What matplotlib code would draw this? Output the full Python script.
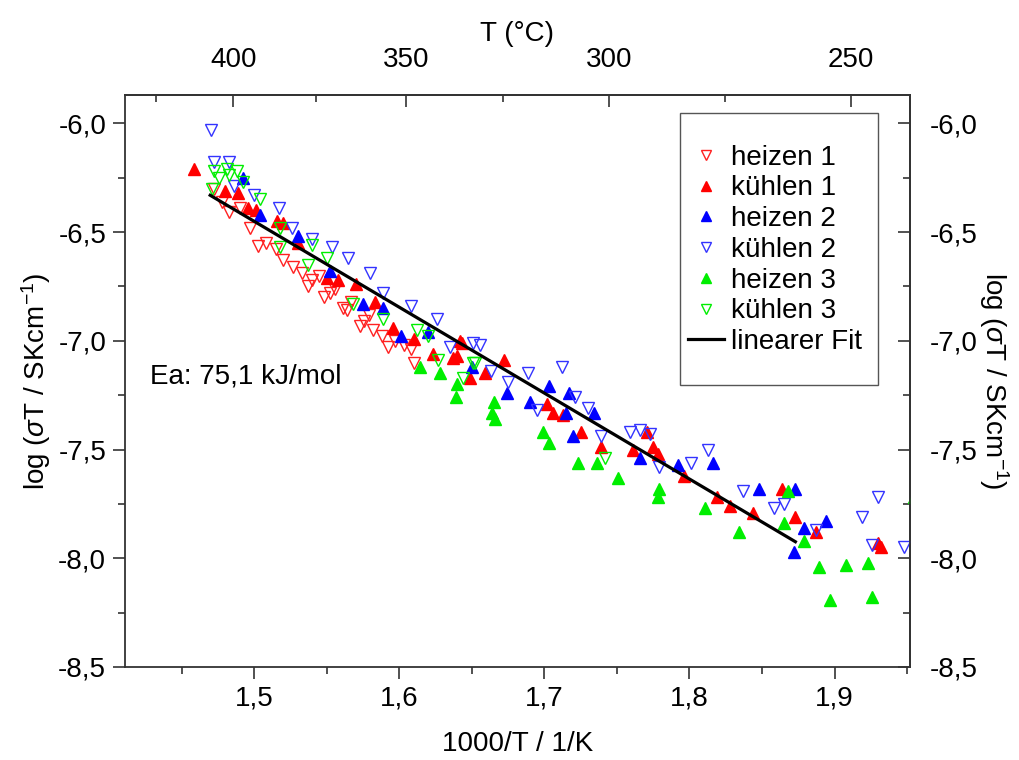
import numpy as np
import matplotlib
matplotlib.use('Agg')
import matplotlib.pyplot as plt
from matplotlib.patches import Rectangle
from matplotlib.ticker import MultipleLocator, FuncFormatter, FixedLocator

plt.rcParams['font.family'] = ['Liberation Sans', 'DejaVu Sans']
plt.rcParams['mathtext.fontset'] = 'custom'
plt.rcParams['mathtext.rm'] = 'Liberation Sans'
plt.rcParams['mathtext.it'] = 'Liberation Sans:italic'

# 1000/T in 1/K, log(sigma*T)
heizen1_x = [1.472, 1.478, 1.483, 1.490, 1.497, 1.503, 1.508, 1.515, 1.520, 1.527, 1.533,
             1.537, 1.540, 1.548, 1.552, 1.561, 1.564, 1.573, 1.576, 1.582, 1.588, 1.592,
             1.597, 1.603, 1.608, 1.610, 1.556, 1.567, 1.579, 1.545]
heizen1_y = [-6.30, -6.36, -6.41, -6.39, -6.48, -6.565, -6.55, -6.58, -6.63, -6.66, -6.69,
             -6.75, -6.72, -6.80, -6.78, -6.85, -6.86, -6.93, -6.91, -6.95, -6.98, -7.03,
             -7.00, -7.02, -7.04, -7.10, -6.76, -6.82, -6.88, -6.70]

kuehlen1_x = [1.4586, 1.480, 1.489, 1.496, 1.501, 1.516, 1.520, 1.550, 1.558, 1.583, 1.596,
              1.610, 1.623, 1.637, 1.643, 1.642, 1.640, 1.672, 1.659, 1.649, 1.702, 1.706,
              1.713, 1.725, 1.739, 1.761, 1.775, 1.778, 1.771, 1.796, 1.819, 1.828, 1.844,
              1.864, 1.887, 1.930, 1.932, 1.873, 1.530, 1.570]
kuehlen1_y = [-6.21, -6.31, -6.32, -6.39, -6.40, -6.45, -6.46, -6.71, -6.72, -6.82, -6.94,
              -6.99, -7.06, -7.08, -7.01, -7.00, -7.07, -7.09, -7.15, -7.17, -7.29, -7.33,
              -7.34, -7.42, -7.49, -7.50, -7.49, -7.52, -7.42, -7.62, -7.72, -7.76, -7.79,
              -7.68, -7.88, -7.93, -7.95, -7.81, -6.55, -6.74]

heizen2_x = [1.492, 1.504, 1.552, 1.575, 1.589, 1.601, 1.674, 1.690, 1.703, 1.715, 1.717,
             1.720, 1.734, 1.766, 1.792, 1.816, 1.848, 1.873, 1.879, 1.894, 1.872, 1.530,
             1.620, 1.650]
heizen2_y = [-6.25, -6.42, -6.68, -6.83, -6.85, -6.98, -7.24, -7.28, -7.21, -7.33, -7.24,
             -7.44, -7.33, -7.54, -7.57, -7.56, -7.68, -7.68, -7.86, -7.83, -7.97, -6.52,
             -6.96, -7.12]

kuehlen2_x = [1.470, 1.472, 1.483, 1.486, 1.517, 1.526, 1.540, 1.554, 1.580, 1.589, 1.608,
              1.626, 1.651, 1.635, 1.656, 1.663, 1.675, 1.689, 1.712, 1.721, 1.730, 1.695,
              1.739, 1.759, 1.766, 1.773, 1.779, 1.801, 1.813, 1.837, 1.858, 1.865, 1.887,
              1.919, 1.930, 1.926, 1.948, 1.500, 1.565]
kuehlen2_y = [-6.03, -6.18, -6.18, -6.29, -6.39, -6.48, -6.53, -6.57, -6.69, -6.78, -6.84,
              -6.90, -7.01, -7.03, -7.02, -7.14, -7.19, -7.15, -7.12, -7.26, -7.31, -7.32,
              -7.44, -7.42, -7.41, -7.43, -7.58, -7.56, -7.50, -7.69, -7.77, -7.75, -7.87,
              -7.81, -7.72, -7.94, -7.95, -6.33, -6.62]

heizen3_x = [1.614, 1.639, 1.640, 1.665, 1.664, 1.666, 1.699, 1.703, 1.723, 1.736, 1.751,
             1.779, 1.778, 1.811, 1.834, 1.865, 1.868, 1.879, 1.889, 1.908, 1.923, 1.897,
             1.926, 1.955, 1.628]
heizen3_y = [-7.12, -7.26, -7.20, -7.28, -7.33, -7.36, -7.42, -7.47, -7.56, -7.56, -7.63,
             -7.68, -7.72, -7.77, -7.88, -7.84, -7.69, -7.92, -8.04, -8.03, -8.02, -8.19,
             -8.18, -7.72, -7.15]

kuehlen3_x = [1.472, 1.481, 1.483, 1.471, 1.492, 1.504, 1.518, 1.518, 1.540, 1.537, 1.568,
              1.589, 1.612, 1.620, 1.627, 1.651, 1.652, 1.644, 1.742, 1.476, 1.488, 1.550]
kuehlen3_y = [-6.22, -6.21, -6.24, -6.30, -6.27, -6.35, -6.48, -6.57, -6.56, -6.65, -6.83,
              -6.90, -6.95, -6.98, -7.09, -7.10, -7.10, -7.17, -7.54, -6.25, -6.22, -6.62]

# linear fit, end points
fit_x = [1.4697, 1.873]
fit_y = [-6.331, -7.924]

fig = plt.figure(figsize=(10.2, 7.6), dpi=100)
ax = fig.add_axes([125/1020, 93/760, 785/1020, 572/760])

ms = 9
ax.plot(heizen1_x, heizen1_y, 'v', ms=ms, mfc='none', mec='#ff2020', mew=1.0, ls='none', label='heizen 1')
ax.plot(kuehlen1_x, kuehlen1_y, '^', ms=ms, mfc='#ff0000', mec='#ff0000', ls='none', label='kühlen 1')
ax.plot(heizen2_x, heizen2_y, '^', ms=ms, mfc='#0000ff', mec='#0000ff', ls='none', label='heizen 2')
ax.plot(kuehlen2_x, kuehlen2_y, 'v', ms=ms, mfc='none', mec='#3333ff', mew=1.0, ls='none', label='kühlen 2')
ax.plot(heizen3_x, heizen3_y, '^', ms=ms, mfc='#00ee00', mec='#00ee00', ls='none', label='heizen 3')
ax.plot(kuehlen3_x, kuehlen3_y, 'v', ms=ms, mfc='none', mec='#00ee00', mew=1.0, ls='none', label='kühlen 3')
ax.plot(fit_x, fit_y, '-', color='black', lw=2.3, label='linearer Fit')

ax.set_xlim(1.411, 1.952)
ax.set_ylim(-8.5, -5.87)

fs = 20
tc = '#333333'
comma = FuncFormatter(lambda v, p: f'{v:.1f}'.replace('.', ','))
ax.xaxis.set_major_locator(MultipleLocator(0.1))
ax.xaxis.set_minor_locator(MultipleLocator(0.05))
ax.yaxis.set_major_locator(MultipleLocator(0.5))
ax.yaxis.set_minor_locator(MultipleLocator(0.25))
ax.xaxis.set_major_formatter(comma)
ax.yaxis.set_major_formatter(comma)
ax.tick_params(which='major', direction='out', length=8.5, width=1.2, labelsize=fs, color=tc, pad=5)
ax.tick_params(which='minor', direction='out', length=5, width=1.2, color=tc)
for s in ax.spines.values():
    s.set_linewidth(1.3)
    s.set_color(tc)

ax.set_xlabel('1000/T / 1/K', fontsize=fs, labelpad=14)
ax.set_ylabel(r'log ($\sigma$T / SKcm$^{-1}$)', fontsize=fs, labelpad=4)

# right axis, same scale
ax_r = ax.secondary_yaxis('right', functions=(lambda y: y, lambda y: y))
ax_r.yaxis.set_major_locator(MultipleLocator(0.5))
ax_r.yaxis.set_minor_locator(MultipleLocator(0.25))
ax_r.yaxis.set_major_formatter(comma)
ax_r.tick_params(which='major', direction='in', length=8.5, width=1.2, labelsize=fs, pad=14, color=tc)
ax_r.tick_params(which='minor', direction='in', length=5, width=1.2, color=tc)
ax_r.spines['right'].set_linewidth(1.3)
ax_r.spines['right'].set_color(tc)
ax_r.set_ylabel(r'log ($\sigma$T / SKcm$^{-1}$)', fontsize=fs, rotation=270, labelpad=24)

# top axis in degrees Celsius
def to_celsius(x):
    x = np.asarray(x, dtype=float)
    with np.errstate(divide='ignore'):
        return 1000.0 / x - 273.15

def to_inv(t):
    t = np.asarray(t, dtype=float)
    with np.errstate(divide='ignore'):
        return 1000.0 / (t + 273.15)

top_ticks = [400, 350, 300, 250]
top_minor = [425, 375, 325, 275]
ax_t = ax.secondary_xaxis('top', functions=(to_celsius, to_inv))
ax_t.xaxis.set_major_locator(FixedLocator(top_ticks))
ax_t.xaxis.set_minor_locator(FixedLocator(top_minor))
ax_t.xaxis.set_major_formatter(FuncFormatter(lambda v, p: f'{v:.0f}'))
ax_t.tick_params(which='major', direction='in', length=8.5, width=1.2, labelsize=fs, pad=16, color=tc)
ax_t.tick_params(which='minor', direction='in', length=5, width=1.2, color=tc)
ax_t.spines['top'].set_linewidth(1.3)
ax_t.spines['top'].set_color(tc)
ax_t.set_xlabel('T (°C)', fontsize=fs, labelpad=4)

ax.text(0.032, 0.507, 'Ea: 75,1 kJ/mol', transform=ax.transAxes, fontsize=fs, va='center', ha='left')

# legend box as in the original (more room above and below than at the sides)
ax.add_patch(Rectangle((0.707, 0.493), 0.252, 0.4755, transform=ax.transAxes, fill=False,
                       ec='#555555', lw=1.0, zorder=5))
leg = ax.legend(loc='upper left', bbox_to_anchor=(0.717, 0.913), fontsize=fs, frameon=False,
                borderpad=0, labelspacing=0.17, handlelength=1.3, handletextpad=0.25,
                markerscale=0.8, borderaxespad=0)

fig.savefig('out.png', dpi=100)
